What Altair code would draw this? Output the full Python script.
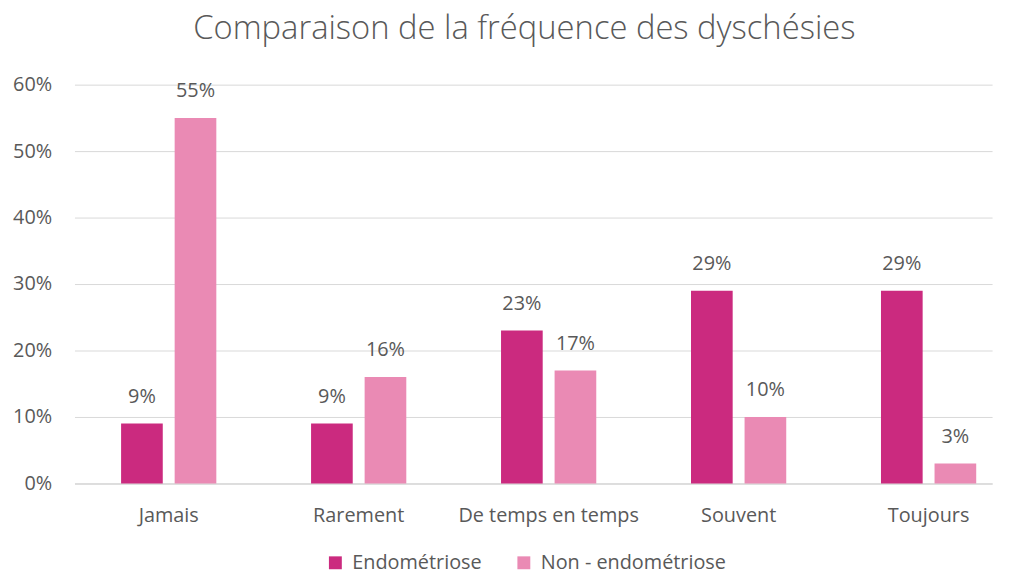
import altair as alt
import pandas as pd

categories = ["Jamais", "Rarement", "De temps en temps", "Souvent", "Toujours"]
series = ["Endométriose", "Non - endométriose"]
endo = [0.09, 0.09, 0.23, 0.29, 0.29]
non_endo = [0.55, 0.16, 0.17, 0.10, 0.03]
colors = ["#CB2A7F", "#EA8AB4"]
y_ticks = [0, 0.1, 0.2, 0.3, 0.4, 0.5, 0.6]

rows = []
for i, c in enumerate(categories):
    rows.append({"cat": c, "serie": series[0], "val": endo[i]})
    rows.append({"cat": c, "serie": series[1], "val": non_endo[i]})
df = pd.DataFrame(rows)

FONT = "Open Sans"
GREY = "#595959"

x = alt.X(
    "cat:N", sort=categories, title=None,
    scale=alt.Scale(paddingInner=0.4987, paddingOuter=0.1645, align=0.746, round=False),
    axis=alt.Axis(labelAngle=0, labelFontSize=20, labelColor=GREY, labelFont=FONT,
                  labelPadding=22, ticks=False, domainColor="#D9D9D9", domainWidth=1.5,
                  grid=False, labelLimit=0),
)
xo = alt.XOffset("serie:N", sort=series,
                 scale=alt.Scale(paddingInner=0.222, paddingOuter=0, round=False))
y = alt.Y(
    "val:Q", title=None,
    scale=alt.Scale(domain=[0, 0.6], nice=False),
    axis=alt.Axis(values=y_ticks, format=".0%", labelFontSize=20, labelColor=GREY,
                  labelFont=FONT, labelPadding=23, ticks=False, domain=False,
                  gridColor="#D9D9D9", gridWidth=1),
)
color = alt.Color(
    "serie:N", sort=series, title=None,
    scale=alt.Scale(domain=series, range=colors),
    legend=alt.Legend(orient="none", legendX=253, legendY=472, direction="horizontal",
                      symbolType="square", symbolSize=169, symbolStrokeWidth=0,
                      labelFontSize=20, labelColor=GREY, labelFont=FONT, labelLimit=0,
                      labelOffset=7, columnPadding=32, padding=0),
)

base = alt.Chart(df).encode(x=x, xOffset=xo, y=y)
bars = base.mark_bar().encode(color=color)
labels = base.mark_text(baseline="bottom", dy=-17, fontSize=20, font=FONT, color=GREY).encode(
    text=alt.Text("val:Q", format=".0%")
)

chart = (bars + labels).properties(
    width=925, height=402,
    padding={"left": 67, "top": 75, "right": 11, "bottom": 86},
    autosize=alt.AutoSizeParams(type="none"),
    title=alt.Title("Comparaison de la fréquence des dyschésies", fontSize=33, font=FONT,
                    fontWeight=300, color=GREY, offset=29, dx=-9, anchor="middle"),
).configure_view(stroke=None)

chart.save("out.html", embed_options={"renderer": "svg", "actions": False})
